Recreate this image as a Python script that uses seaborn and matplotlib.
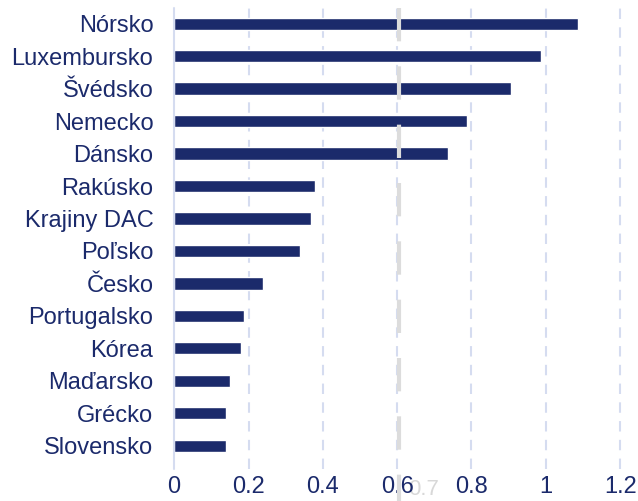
import matplotlib
matplotlib.use('Agg')
import matplotlib.pyplot as plt
import seaborn as sns
import pandas as pd

countries = ['Nórsko', 'Luxembursko', 'Švédsko', 'Nemecko', 'Dánsko', 'Rakúsko',
             'Krajiny DAC', 'Poľsko', 'Česko', 'Portugalsko', 'Kórea', 'Maďarsko',
             'Grécko', 'Slovensko']
values = [1.087, 0.987, 0.907, 0.788, 0.737, 0.379, 0.369, 0.339, 0.239,
          0.188, 0.180, 0.151, 0.140, 0.140]
xticks = [0, 0.2, 0.4, 0.6, 0.8, 1, 1.2]

NAVY = '#1b2a6b'

sns.set_style('white')
plt.rcParams['font.family'] = ['Liberation Sans', 'DejaVu Sans']

df = pd.DataFrame({'country': countries, 'value': values})

fig = plt.figure(figsize=(6.38, 5.01), dpi=100)
ax = fig.add_axes([0.273, 0.078, 0.699, 0.907])

sns.barplot(data=df, x='value', y='country', color=NAVY, width=0.38,
            saturation=1, ax=ax, zorder=3)

ax.set_xlim(0, 1.2)
ax.set_ylim(13.5, -0.5)
ax.set_xticks(xticks)
ax.set_xticklabels(['0', '0.2', '0.4', '0.6', '0.8', '1', '1.2'])
for x in xticks[1:]:
    ax.axvline(x, ymin=-0.015, color='#d5dcf0', lw=1.5, ls=(0, (5, 4)),
               zorder=1, clip_on=False)
ax.axvline(0, ymin=-0.015, color='#d5dcf0', lw=1.5, zorder=4, clip_on=False)

# faint overlay marker
ax.text(0.67, -0.038, '0.7', transform=ax.get_xaxis_transform(), color='#d8d8d8',
        fontsize=16, ha='center', va='top', zorder=0.1)
ax.plot([0.605, 0.605], [1.0, -0.09], transform=ax.get_xaxis_transform(),
        color='#dcdcdc', lw=3, ls=(0, (8, 6)), zorder=6, clip_on=False)

ax.set_xlabel('')
ax.set_ylabel('')
for s in ax.spines.values():
    s.set_visible(False)
ax.tick_params(axis='both', length=0, labelsize=17, colors=NAVY)
ax.tick_params(axis='x', pad=10)
ax.tick_params(axis='y', pad=15)

fig.savefig('out.png', dpi=100)
